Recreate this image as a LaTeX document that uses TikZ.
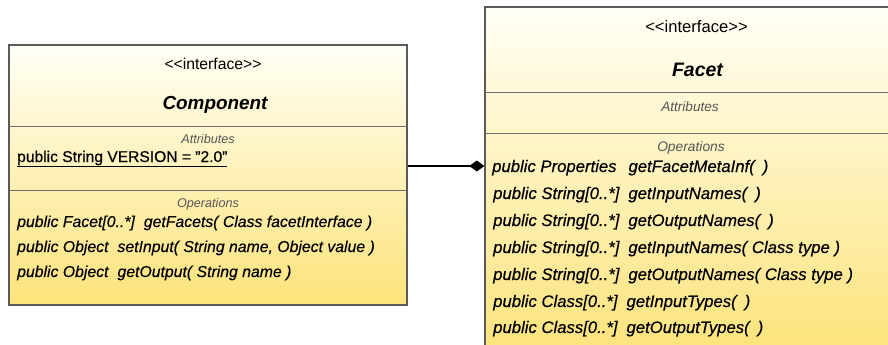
\documentclass[tikz,border=0pt]{standalone}
\usepackage{fontspec}
\setmainfont{Liberation Sans}
\usetikzlibrary{arrows.meta}
\definecolor{umlborder}{HTML}{5A5A5A}
\definecolor{umlrule}{HTML}{707070}
\definecolor{umltop}{HTML}{FFFFF6}
\definecolor{umlbottom}{HTML}{FDE37A}
\definecolor{umlgray}{HTML}{555555}
\newcommand{\fsz}[1]{\fontsize{#1}{#1}\selectfont}
\newcommand{\heavy}{\addfontfeature{FakeBold=0.4}}
\newcommand{\stereotext}{<\kern0pt<interface>\kern0pt>}
\tikzset{
  x=1pt, y=-1pt,
  umlclass/.style={draw=umlborder, line width=1.3pt, rectangle, inner sep=0pt,
    top color=umltop, bottom color=umlbottom},
  compartment/.style={draw=umlrule, line width=0.9pt},
  stereo/.style={anchor=base, inner sep=0pt},
  classname/.style={anchor=base, inner sep=0pt},
  section/.style={anchor=base, inner sep=0pt, text=umlgray},
  member/.style={anchor=base west, inner sep=0pt},
  assoc/.style={line width=2.4pt, -{Diamond[length=15pt,width=11pt]}},
}
\newcommand{\cgap}{\hspace{9pt}}
\newcommand{\fgap}{\hspace{9pt}}
\newcommand{\pgap}{\hspace{8pt}}
\begin{document}
\begin{tikzpicture}
\useasboundingbox (0,0) rectangle (888,345);
\clip (0,0) rectangle (888,345);

% --- Component interface ---
\node[umlclass, minimum width=398pt, minimum height=260pt] (comp) at (208,175) {};
\draw[compartment] (9,126) -- (407,126);
\draw[compartment] (9,190) -- (407,190);
\node[stereo, font=\fsz{15.7}] (compstereo) at (213,70) {\stereotext};
\node[classname, font=\fsz{18.9}\bfseries\itshape] (compname) at (215,109.5) {Component};
\node[section, font=\fsz{12.6}\itshape] (compattr) at (208,143.5) {Attributes};
\node[member, font=\fsz{15.6}\heavy] (compversion) at (17,162) {\underline{public String VERSION = "2.0"}};
\node[section, font=\fsz{12.6}\itshape] (compops) at (208,207.5) {Operations};
\begin{scope}[every node/.append style={font=\fsz{15.8}\itshape\heavy}]
\node[member] (compop1) at (17,227) {public Facet[0..*]\cgap getFacets( Class facetInterface )};
\node[member] (compop2) at (17,252) {public Object\cgap setInput( String name, Object value )};
\node[member] (compop3) at (17,277) {public Object\cgap getOutput( String name )};
\end{scope}

% --- Facet interface ---
\node[umlclass, minimum width=410pt, minimum height=348pt] (facet) at (690,181) {};
\draw[compartment] (485,92) -- (895,92);
\draw[compartment] (485,133) -- (895,133);
\node[stereo, font=\fsz{16.6}] (facetstereo) at (696.5,33) {\stereotext};
\node[classname, font=\fsz{19.5}\bfseries\itshape] (facetname) at (697.5,76.5) {Facet};
\node[section, font=\fsz{13.6}\itshape] (facetattr) at (690,111.5) {Attributes};
\node[section, font=\fsz{13.8}\itshape] (facetops) at (691,151.5) {Operations};
\begin{scope}[every node/.append style={font=\fsz{16.7}\itshape\heavy}]
\node[member] (facetop1) at (492,172) {public Properties\hspace{12pt}getFacetMetaInf(\pgap)};
\node[member] (facetop2) at (493,199) {public String[0..*]\fgap getInputNames(\pgap)};
\node[member] (facetop3) at (493,226) {public String[0..*]\fgap getOutputNames(\pgap)};
\node[member] (facetop4) at (493,253) {public String[0..*]\fgap getInputNames( Class type )};
\node[member] (facetop5) at (493,280) {public String[0..*]\fgap getOutputNames( Class type )};
\node[member] (facetop6) at (493,307) {public Class[0..*]\fgap getInputTypes(\pgap)};
\node[member] (facetop7) at (493,333) {public Class[0..*]\fgap getOutputTypes(\pgap)};
\end{scope}

% --- composition link ---
\coordinate (link) at (0,166);
\draw[assoc] (comp.east |- link) -- (facet.west |- link);
\end{tikzpicture}
\end{document}
